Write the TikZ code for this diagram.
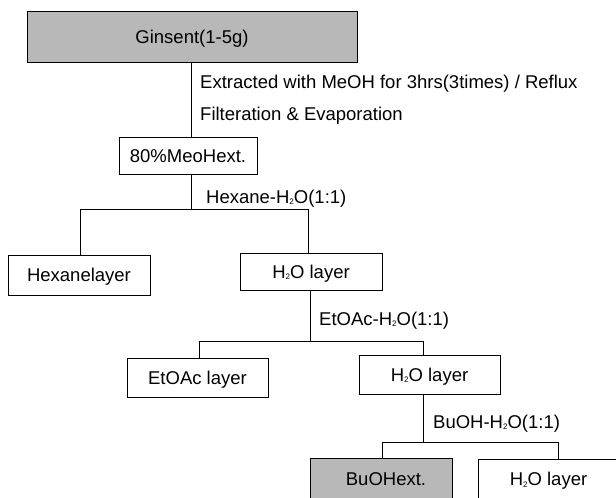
\documentclass[tikz,border=0pt]{standalone}
\usepackage{fontspec}
\setmainfont{Liberation Sans}
\newcommand{\subtwo}{{\fontsize{8}{8}\selectfont\raisebox{-1.5pt}{2}}}
\begin{document}
\begin{tikzpicture}[x=1pt,y=-1pt,
  every node/.style={font=\fontsize{18.5}{20}\selectfont},
  stagebox/.style={draw=black,line width=1pt,rectangle,inner sep=0pt,
    text height=13pt,text depth=0pt,fill=white},
  shadedbox/.style={stagebox,fill=black!28},
  steplabel/.style={anchor=base west,inner sep=0pt},
  link/.style={draw=black,line width=0.8pt}]
\useasboundingbox (0,0) rectangle (616,498);
\clip (0,0) rectangle (616,498);
% boxes
\node[shadedbox,minimum width=330pt,minimum height=51pt] (gin) at (192,36.5) {Ginsent(1-5g)};
\node[stagebox,minimum width=138pt,minimum height=37pt] (meo) at (188,155.5) {80\%MeoHext.};
\node[stagebox,minimum width=142pt,minimum height=40pt] (hex) at (79,275) {Hexanelayer};
\node[stagebox,minimum width=142pt,minimum height=37pt] (wa) at (311,271.5) {H\subtwo O layer};
\node[stagebox,minimum width=141pt,minimum height=39pt] (eto) at (197.5,377.5) {EtOAc layer};
\node[stagebox,minimum width=141pt,minimum height=39pt] (wb) at (429.5,374.5) {H\subtwo O layer};
\node[shadedbox,minimum width=142pt,minimum height=41pt] (buo) at (381,478.5) {\hspace*{10pt}BuOHext.};
\node[stagebox,minimum width=141pt,minimum height=40pt] (wc) at (548.5,479) {H\subtwo O layer};
% helper coordinates
\coordinate (c1) at (191,0);
\coordinate (c2) at (310,0);
\coordinate (c3) at (423,0);
\coordinate (h1) at (0,209);
\coordinate (h2) at (0,341);
\coordinate (h3) at (0,442);
\coordinate (d1) at (80,0);
\coordinate (d2) at (308,0);
\coordinate (d3) at (199,0);
\coordinate (d4) at (423,0);
\coordinate (d5) at (382,0);
\coordinate (d6) at (558,0);
% connectors
\draw[link] (gin.south -| c1) -- (meo.north -| c1);
\draw[link] (meo.south -| c1) -- (h1 -| c1);
\draw[link] (hex.north -| d1) -- (h1 -| d1) -- (h1 -| d2) -- (wa.north -| d2);
\draw[link] (wa.south -| c2) -- (h2 -| c2);
\draw[link] (eto.north -| d3) -- (h2 -| d3) -- (h2 -| d4) -- (wb.north -| d4);
\draw[link] (wb.south -| c3) -- (h3 -| c3);
\draw[link] (buo.north -| d5) -- (h3 -| d5) -- (h3 -| d6) -- (wc.north -| d6);
% labels
\node[steplabel] (l1) at (200,88) {Extracted with MeOH for 3hrs(3times) / Reflux};
\node[steplabel] (l2) at (200,120) {Filteration \& Evaporation};
\node[steplabel] (l3) at (206,203) {Hexane-H\subtwo O(1:1)};
\node[steplabel] (l4) at (319,325) {EtOAc-H\subtwo O(1:1)};
\node[steplabel] (l5) at (433,428) {BuOH-H\subtwo O(1:1)};
\end{tikzpicture}
\end{document}
